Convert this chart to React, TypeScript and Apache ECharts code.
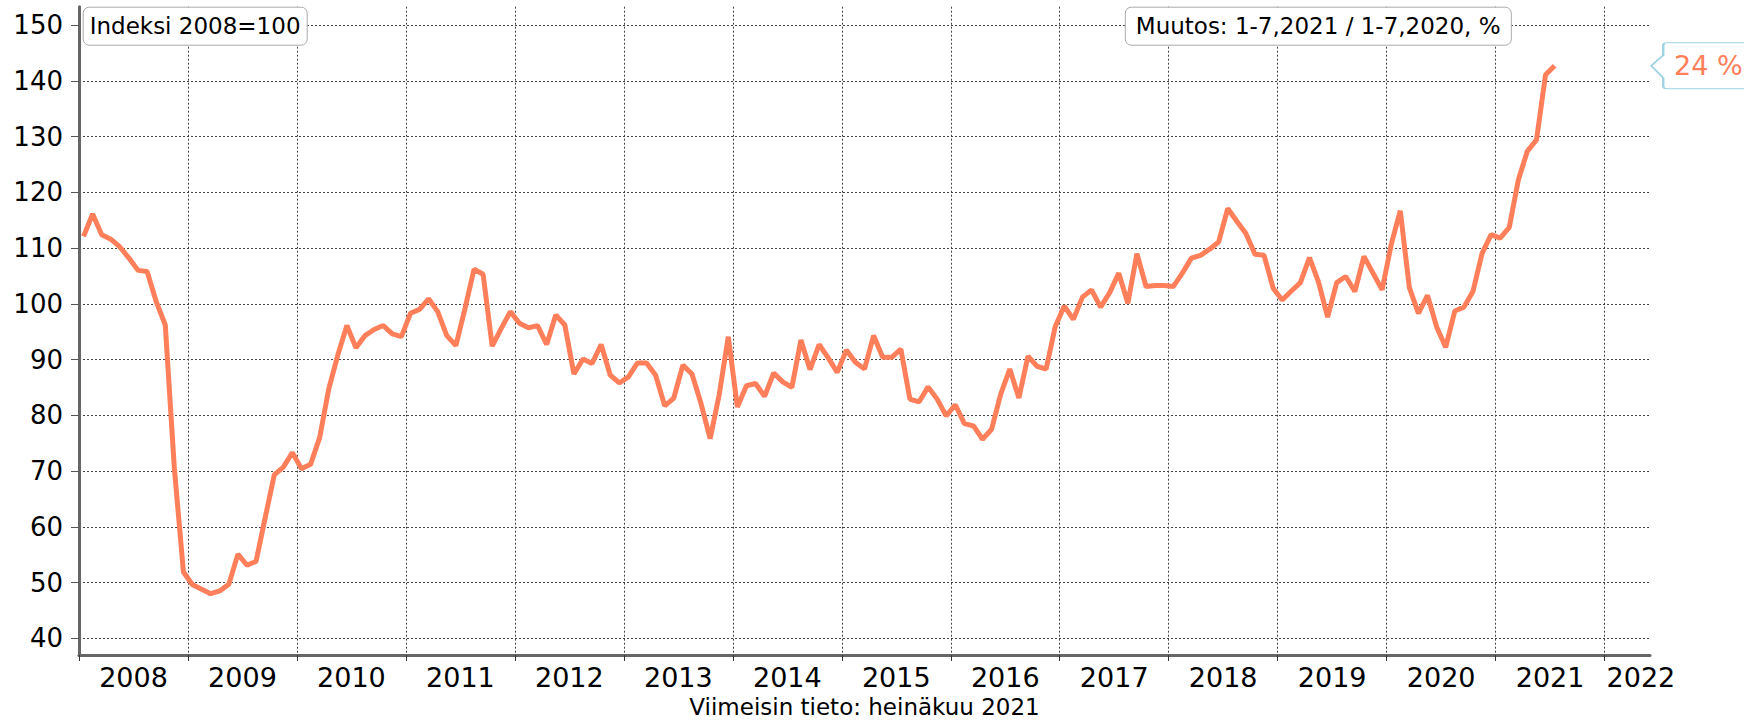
import React, { useEffect, useRef } from "react";
import * as echarts from "echarts";

const startYear = 2008;
const endYear = 2022;
const monthsOnAxis = 173; // Jan 2008 .. May 2022
const yTicks = [40, 50, 60, 70, 80, 90, 100, 110, 120, 130, 140, 150];

const values2008 = [112.1, 116.1, 112.4, 111.6, 110.2, 108.2, 106.0, 105.8, 100.4, 96.2, 70.5, 51.9];
const values2009 = [49.6, 48.8, 48.0, 48.5, 49.7, 55.1, 53.1, 53.8, 61.6, 69.3, 70.7, 73.3];
const values2010 = [70.4, 71.2, 76.0, 84.7, 90.8, 96.1, 92.1, 94.3, 95.4, 96.1, 94.6, 94.1];
const values2011 = [98.3, 99.0, 100.9, 98.6, 94.3, 92.5, 99.1, 106.2, 105.3, 92.4, 95.6, 98.6];
const values2012 = [96.5, 95.7, 96.1, 92.7, 98.0, 96.2, 87.4, 90.1, 89.3, 92.7, 87.2, 85.8];
const values2013 = [86.9, 89.4, 89.4, 87.2, 81.7, 83.1, 89.0, 87.4, 82.1, 75.8, 83.7, 94.1];
const values2014 = [81.5, 85.3, 85.7, 83.4, 87.6, 86.0, 85.0, 93.5, 88.2, 92.7, 90.3, 87.7];
const values2015 = [91.7, 89.5, 88.3, 94.3, 90.4, 90.4, 91.9, 82.9, 82.4, 85.1, 82.9, 79.9];
const values2016 = [81.9, 78.5, 78.1, 75.7, 77.5, 83.8, 88.3, 83.1, 90.6, 88.8, 88.3, 95.9];
const values2017 = [99.6, 97.2, 101.2, 102.5, 99.4, 102.0, 105.5, 100.1, 109.0, 103.1, 103.3, 103.3];
const values2018 = [103.1, 105.5, 108.2, 108.7, 109.8, 111.1, 117.1, 114.8, 112.6, 108.9, 108.7, 102.8];
const values2019 = [100.7, 102.3, 103.8, 108.3, 103.9, 97.6, 103.8, 104.9, 102.2, 108.5, 105.5, 102.5];
const values2020 = [110.6, 116.7, 102.9, 98.3, 101.5, 95.9, 92.2, 98.7, 99.4, 102.2, 109.0, 112.4];
const values2021 = [111.8, 113.7, 122.2, 127.4, 129.4, 141.1, 142.7];

const indexTitle = "Indeksi 2008=100";
const changeTitle = "Muutos: 1-7,2021 / 1-7,2020, %";
const changeLabel = "24 %";
const footer = "Viimeisin tieto: heinäkuu 2021";

const LINE = "#ff7f5b";
const FONT = "DejaVu Sans";

export default function App() {
  const ref = useRef<HTMLDivElement>(null);
  useEffect(() => {
    document.body.style.margin = "0";
    if (!ref.current) return;
    const chart = echarts.init(ref.current, null, { renderer: "svg" });
    const values = [
      ...values2008, ...values2009, ...values2010, ...values2011, ...values2012,
      ...values2013, ...values2014, ...values2015, ...values2016, ...values2017,
      ...values2018, ...values2019, ...values2020, ...values2021,
    ];
    const data = values.map((v, i) => [i + 0.5, v]);
    const last = data[data.length - 1];
    const years: number[] = [];
    for (let y = startYear; y <= endYear; y++) years.push(y);
    const yearStarts = years.map((y) => (y - startYear) * 12);
    const labelPos = yearStarts.map((s) => Math.min(s + 6, monthsOnAxis - 1));

    chart.setOption({
      animation: false,
      textStyle: { fontFamily: FONT },
      title: [
        {
          text: indexTitle,
          left: 82.7,
          top: 6.7,
          padding: [8, 7, 8, 7],
          backgroundColor: "#fff",
          borderColor: "#aaa",
          borderWidth: 1,
          borderRadius: 6,
          textStyle: { fontFamily: FONT, fontSize: 23, fontWeight: "normal", color: "#000" },
        },
        {
          text: changeTitle,
          left: 1124.8,
          top: 6.7,
          padding: [8, 11, 8, 11],
          backgroundColor: "#fff",
          borderColor: "#aaa",
          borderWidth: 1,
          borderRadius: 6,
          textStyle: { fontFamily: FONT, fontSize: 23, fontWeight: "normal", color: "#000" },
        },
      ],
      grid: {
        left: 79,
        right: 94,
        top: 6.7,
        bottom: 66,
        containLabel: false,
        outerBoundsMode: "none",
      },
      xAxis: {
        type: "value",
        min: 0,
        max: monthsOnAxis,
        name: footer,
        nameLocation: "middle",
        nameGap: 39,
        nameTextStyle: { fontFamily: FONT, fontSize: 23, color: "#000" },
        axisLine: { show: true, onZero: false, lineStyle: { color: "#666", width: 3 } },
        axisTick: {
          show: true,
          customValues: yearStarts,
          length: 6,
          lineStyle: { color: "#333", width: 1 },
        },
        axisLabel: {
          show: true,
          customValues: labelPos,
          formatter: (v: number) => String(startYear + Math.floor(v / 12)),
          fontFamily: FONT,
          fontSize: 27,
          color: "#000",
          margin: 9,
        },
        splitLine: {
          show: true,
          lineStyle: { color: "#444", width: 1, type: [2, 2] },
        },
      },
      yAxis: {
        type: "value",
        min: 37,
        max: 153.3,
        axisLine: { show: true, lineStyle: { color: "#666", width: 3 } },
        axisTick: {
          show: true,
          customValues: yTicks,
          length: 8,
          lineStyle: { color: "#555", width: 1 },
        },
        axisLabel: {
          show: true,
          customValues: yTicks,
          fontFamily: FONT,
          fontSize: 26,
          color: "#000",
          margin: 16,
        },
        splitLine: {
          show: true,
          lineStyle: { color: "#444", width: 1, type: [2, 2] },
        },
      },
      series: [
        {
          type: "line",
          data,
          showSymbol: false,
          lineStyle: { color: LINE, width: 5 },
          itemStyle: { color: LINE },
          z: 3,
          markPoint: {
            silent: true,
            data: [
              {
                coord: last,
                symbol:
                  "path://M0,50 L20,27 L20,6 Q20,0 26,0 L200,0 L200,100 L26,100 Q20,100 20,94 L20,76 Z",
                symbolSize: [120, 46],
                symbolKeepAspect: false,
                symbolOffset: [156.6, 0],
                itemStyle: { color: "#fff", borderColor: "#9fd3e3", borderWidth: 1.5 },
                label: {
                  show: true,
                  position: "inside",
                  offset: [-3, 0],
                  formatter: changeLabel,
                  fontFamily: FONT,
                  fontSize: 27,
                  color: LINE,
                },
              },
            ],
          },
        },
      ],
    });
    return () => chart.dispose();
  }, []);
  return <div ref={ref} style={{ width: 1744, height: 721 }} />;
}
